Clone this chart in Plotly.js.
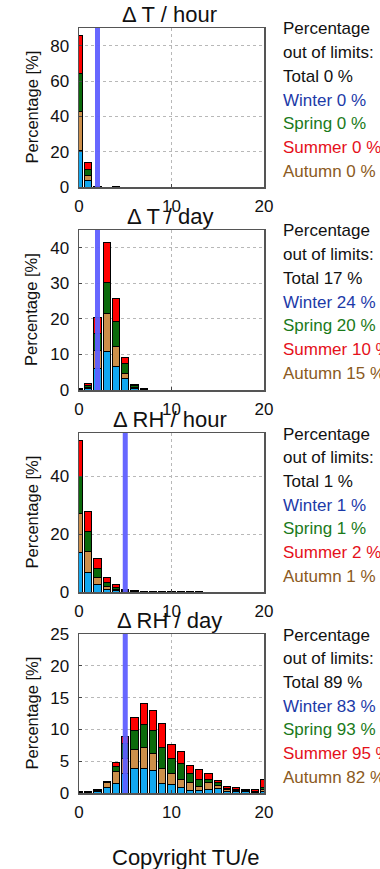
<!DOCTYPE html>
<html>
<head>
<meta charset="utf-8">
<script src="https://cdn.plot.ly/plotly-3.0.1.min.js"></script>
<style>html,body{margin:0;padding:0;background:#fff;}#chart{width:380px;height:869px;}</style>
</head>
<body>
<div id="chart"></div>
<script>
// Bin centres (x axis)
const bins = [0,1,2,3,4,5,6,7,8,9,10,11,12,13,14,15,16,17,18,19,20];

// Panel titles
const titles = ["\u0394 T / hour", "\u0394 T / day", "\u0394 RH / hour", "\u0394 RH / day"];
const thresholds = [2, 2, 5, 5];
const yMax = [90, 45, 55, 25];
const yStep = [20, 10, 20, 5];

// Seasons (stack order bottom -> top)
const seasons = ["Winter", "Autumn", "Spring", "Summer"];

// Panel 1: ΔT / hour
const dTh_winter = [20.6,3.6,0.2,0,0.05,0,0,0,0,0,0,0,0,0,0,0,0,0,0,0,0];
const dTh_autumn = [21.9,2.8,0.1,0,0.03,0,0,0,0,0,0,0,0,0,0,0,0,0,0,0,0];
const dTh_spring = [21.5,3.7,0.1,0,0.03,0,0,0,0,0,0,0,0,0,0,0,0,0,0,0,0];
const dTh_summer = [21.6,3.8,0.1,0,0.03,0,0,0,0,0,0,0,0,0,0,0,0,0,0,0,0];

// Panel 2: ΔT / day
const dTd_winter = [0.1,0.3,6.0,10.7,6.5,3.2,0.3,0.1,0,0,0,0,0,0,0,0,0,0,0,0,0];
const dTd_autumn = [0.05,0.3,5.0,10.8,5.8,1.5,0.4,0.1,0,0,0,0,0,0,0,0,0,0,0,0,0];
const dTd_spring = [0.1,0.8,5.0,8.6,7.1,2.8,0.6,0.1,0,0,0,0,0,0,0,0,0,0,0,0,0];
const dTd_summer = [0.05,0.5,4.4,11.4,6.4,1.6,0.3,0.1,0,0,0,0,0,0,0,0,0,0,0,0,0];

// Panel 3: ΔRH / hour
const dRHh_winter = [13.6,6.9,2.5,0.8,0.4,0.2,0.1,0.07,0.05,0.05,0.04,0.03,0.01,0.04,0,0,0,0,0,0,0];
const dRHh_autumn = [13.7,7.0,2.5,1.1,0.5,0.2,0.1,0.07,0.05,0.05,0.04,0.02,0.01,0.04,0,0,0,0,0,0,0];
const dRHh_spring = [12.7,6.9,3.0,1.5,0.7,0.3,0.15,0.08,0.05,0.05,0.04,0.03,0.02,0.04,0,0,0,0,0,0,0];
const dRHh_summer = [12.5,6.9,3.7,1.6,0.9,0.3,0.15,0.08,0.05,0.05,0.03,0.02,0.01,0.03,0,0,0,0,0,0,0];

// Panel 4: ΔRH / day
const dRHd_winter = [0.05,0.1,0.2,0.9,1.5,3.0,3.9,3.8,3.5,1.5,1.3,0.9,0.4,0.4,0.5,0.7,0.3,0.3,0.3,0.1,0.3];
const dRHd_autumn = [0.05,0.05,0.2,0.8,1.9,2.5,3.0,3.3,2.7,2.3,1.8,1.2,1.3,0.6,1.1,0.5,0.2,0.1,0.1,0.1,0.3];
const dRHd_spring = [0.05,0.1,0.05,0.05,0.8,2.3,3.0,3.6,3.6,3.3,2.3,2.6,1.4,1.1,0.5,0.4,0.2,0.1,0.1,0.05,0.2];
const dRHd_summer = [0.05,0.05,0.05,0.05,0.6,1.1,2.0,3.3,3.2,3.9,2.3,1.9,1.2,1.6,0.9,0.4,0.3,0.3,0.1,0.25,1.4];

// Percentage-out-of-limits texts
const pctTotal  = ["0 %", "17 %", "1 %", "89 %"];
const pctWinter = ["0 %", "24 %", "1 %", "83 %"];
const pctSpring = ["0 %", "20 %", "1 %", "93 %"];
const pctSummer = ["0 %", "10 %", "2 %", "95 %"];
const pctAutumn = ["0 %", "15 %", "1 %", "82 %"];

const panelData = [
  [dTh_winter, dTh_autumn, dTh_spring, dTh_summer],
  [dTd_winter, dTd_autumn, dTd_spring, dTd_summer],
  [dRHh_winter, dRHh_autumn, dRHh_spring, dRHh_summer],
  [dRHd_winter, dRHd_autumn, dRHd_spring, dRHd_summer]
];

const barColors = ["#12a8f0", "#cc8f4a", "#0b6a0b", "#ff0000"];
const textColors = {Total:"#111111", Winter:"#1c3aa8", Spring:"#1a7a1a", Summer:"#e5101a", Autumn:"#8b5a22"};
const FONT = "Liberation Sans, Arial, Helvetica, sans-serif";

const W = 380, H = 869;
const plotLeft = 79, plotRight = 264;
const plotTops = [28, 230, 433, 634];
const plotBottoms = [187, 390, 592, 793];

const data = [];
const layout = {
  width: W, height: H,
  margin: {l:0, r:0, t:0, b:0},
  paper_bgcolor: "#ffffff",
  plot_bgcolor: "#ffffff",
  barmode: "stack",
  bargap: 0.2,
  showlegend: false,
  font: {family: FONT, size: 17, color: "#111"},
  annotations: [],
  shapes: []
};

for (let p = 0; p < 4; p++) {
  const sfx = p === 0 ? "" : String(p + 1);
  const xa = "x" + sfx, ya = "y" + sfx;
  for (let s = 0; s < 4; s++) {
    data.push({
      type: "bar",
      x: bins,
      y: panelData[p][s],
      name: seasons[s],
      xaxis: xa, yaxis: ya,
      width: 0.8,
      marker: {color: barColors[s], line: {color: "#000", width: 1}},
      hoverinfo: "skip"
    });
  }
  const yd0 = 1 - plotBottoms[p] / H, yd1 = 1 - plotTops[p] / H;
  layout["xaxis" + sfx] = {
    domain: [plotLeft / W, plotRight / W],
    anchor: ya,
    range: [0, 20],
    tickvals: [0, 10, 20],
    ticktext: ["0", "10", "20"],
    ticks: "inside", ticklen: 3, tickcolor: "#444",
    ticklabelstandoff: 3,
    showgrid: true, gridcolor: "#b8b8b8", griddash: "dot", gridwidth: 1,
    showline: true, mirror: true, linecolor: "#555", linewidth: 1.5,
    zeroline: false,
    tickfont: {family: FONT, size: 17, color: "#111"},
    fixedrange: true
  };
  const tv = [];
  for (let v = 0; v <= yMax[p]; v += yStep[p]) tv.push(v);
  layout["yaxis" + sfx] = {
    domain: [yd0, yd1],
    anchor: xa,
    range: [0, yMax[p]],
    tickvals: tv,
    ticks: "inside", ticklen: 3, tickcolor: "#444",
    ticklabelstandoff: 5,
    showgrid: true, gridcolor: "#b8b8b8", griddash: "dot", gridwidth: 1,
    showline: true, mirror: true, linecolor: "#555", linewidth: 1.5,
    zeroline: false,
    tickfont: {family: FONT, size: 17, color: "#111"},
    fixedrange: true
  };
  // threshold line
  layout.shapes.push({
    type: "line", xref: xa, yref: ya + " domain",
    x0: thresholds[p], x1: thresholds[p], y0: 0, y1: 1,
    line: {color: "rgba(95,95,255,0.95)", width: 5},
    layer: "above"
  });
  // title
  layout.annotations.push({
    text: titles[p], xref: "paper", yref: "paper",
    x: (plotLeft + plotRight) / 2 / W - 0.005, y: 1 - (plotTops[p] + 1) / H,
    xanchor: "center", yanchor: "bottom", showarrow: false,
    font: {family: FONT, size: 22, color: "#111"}
  });
  // y axis title
  layout.annotations.push({
    text: "Percentage [%]", xref: "paper", yref: "paper",
    x: 31 / W, y: 1 - (plotTops[p] + plotBottoms[p]) / 2 / H,
    xanchor: "center", yanchor: "middle", textangle: -90, showarrow: false,
    font: {family: FONT, size: 16.5, color: "#111"}
  });
  // side texts
  const lines = [
    ["Percentage", "Total"],
    ["out of limits:", "Total"],
    ["Total " + pctTotal[p], "Total"],
    ["Winter " + pctWinter[p], "Winter"],
    ["Spring " + pctSpring[p], "Spring"],
    ["Summer " + pctSummer[p], "Summer"],
    ["Autumn " + pctAutumn[p], "Autumn"]
  ];
  for (let i = 0; i < lines.length; i++) {
    const yc = plotTops[p] + 1 + i * 23.7;
    layout.annotations.push({
      text: lines[i][0], xref: "paper", yref: "paper",
      x: 281 / W, y: 1 - yc / H,
      xanchor: "left", yanchor: "middle", showarrow: false,
      font: {family: FONT, size: 17, color: textColors[lines[i][1]]}
    });
  }
}

layout.annotations.push({
  text: "Copyright TU/e", xref: "paper", yref: "paper",
  x: 186 / W, y: 1 - 857 / H,
  xanchor: "center", yanchor: "middle", showarrow: false,
  font: {family: FONT, size: 22, color: "#111"}
});

Plotly.newPlot("chart", data, layout, {staticPlot: true, displayModeBar: false});
</script>
</body>
</html>
